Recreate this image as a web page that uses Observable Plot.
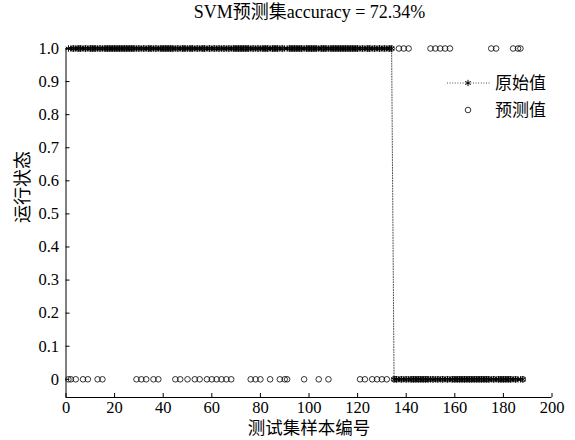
<!DOCTYPE html>
<html><head><meta charset="utf-8">
<script src="https://cdn.jsdelivr.net/npm/d3@7"></script>
<script src="https://cdn.jsdelivr.net/npm/@observablehq/plot@0.6"></script>
<style>
body{margin:0;background:#fff;}
#wrap{position:relative;width:575px;height:440px;font-family:'Liberation Serif','Noto Sans CJK SC',serif;color:#000;}
#title{height:24px;line-height:24px;text-align:center;font-size:18px;padding-left:44px;white-space:nowrap;}
#legend{position:absolute;left:440px;top:68px;}
#chart svg text, #legend text{font-family:'Liberation Serif','Noto Sans CJK SC',serif !important;}
</style></head><body>
<div id="wrap"><div id="title">SVM预测集accuracy = 72.34%</div><div id="chart"></div><svg id="legend" width="130" height="60"></svg></div>
<script>
// 原始值 (true class of each test sample, samples 1..188)
const original = [
1,1,1,1,1,1,1,1,1,1,1,1,1,1,1,1,1,1,1,1,
1,1,1,1,1,1,1,1,1,1,1,1,1,1,1,1,1,1,1,1,
1,1,1,1,1,1,1,1,1,1,1,1,1,1,1,1,1,1,1,1,
1,1,1,1,1,1,1,1,1,1,1,1,1,1,1,1,1,1,1,1,
1,1,1,1,1,1,1,1,1,1,1,1,1,1,1,1,1,1,1,1,
1,1,1,1,1,1,1,1,1,1,1,1,1,1,1,1,1,1,1,1,
1,1,1,1,1,1,1,1,1,1,1,1,1,1,0,0,0,0,0,0,
0,0,0,0,0,0,0,0,0,0,0,0,0,0,0,0,0,0,0,0,
0,0,0,0,0,0,0,0,0,0,0,0,0,0,0,0,0,0,0,0,
0,0,0,0,0,0,0,0
];
// samples whose predicted value differs from the original
const misclassified = [1,2,4,7,9,13,15,29,31,33,36,38,45,47,50,53,55,58,60,62,64,66,68,
  76,78,80,84,88,90,91,98,104,108,121,123,126,128,130,132,
  137,139,141,150,152,154,156,158,175,177,184,186,187];
const xTicks = [0,20,40,60,80,100,120,140,160,180,200];
const yTicks = [0,0.1,0.2,0.3,0.4,0.5,0.6,0.7,0.8,0.9,1.0];
const yTickLabels = ["0","0.1","0.2","0.3","0.4","0.5","0.6","0.7","0.8","0.9","1.0"];
const xDomain = [0,200];
const yDomain = [-0.055,1];
const xLabel = "测试集样本编号";
const yLabel = "运行状态";
const legendLabels = ["原始值","预测值"];

const samples = original.map((v,i)=>({
  sample:i+1,
  original:v,
  predicted: misclassified.includes(i+1) ? 1-v : v
}));

const font = "'Liberation Serif','Noto Sans CJK SC',serif";
const chart = Plot.plot({
  width:575, height:416,
  marginLeft:65.5, marginRight:23.5, marginTop:24, marginBottom:43,
  x:{domain:xDomain},
  y:{domain:yDomain},
  style:{fontFamily:font, fontSize:"16px", background:"white", color:"black", overflow:"visible"},
  marks:[
    Plot.ruleX([xDomain[0]], {stroke:"black", strokeWidth:1}),
    Plot.ruleY([yDomain[0]], {stroke:"black", strokeWidth:1}),
    Plot.axisX({ticks:xTicks, tickSize:-4, tickPadding:8, tickFormat:d=>String(d), label:null, fontSize:16.5, fontFamily:font, stroke:"black"}),
    Plot.axisY({ticks:yTicks, tickSize:-4, tickPadding:11, tickFormat:d=>yTickLabels[yTicks.indexOf(d)], label:null, fontSize:16.5, fontFamily:font, stroke:"black"}),
    Plot.text([xLabel], {frameAnchor:"bottom", dy:31, lineAnchor:"middle", fontSize:17.5, fontFamily:font}),
    Plot.text([yLabel], {frameAnchor:"left", dx:-43, rotate:-90, fontSize:18, fontFamily:font}),
    Plot.line(samples, {x:"sample", y:"original", stroke:"#222", strokeWidth:0.8, strokeDasharray:"1,1.6"}),
    Plot.dot(samples, {x:"sample", y:"original", symbol:"asterisk", r:3, stroke:"black", strokeWidth:1}),
    Plot.dot(samples, {x:"sample", y:"predicted", r:2.8, stroke:"black", fill:"none", strokeWidth:0.8})
  ]
});
document.getElementById("chart").appendChild(chart);

// legend
const lg = d3.select("#legend");
lg.append("line").attr("x1",7).attr("x2",50).attr("y1",15).attr("y2",15)
  .attr("stroke","#222").attr("stroke-width",0.8).attr("stroke-dasharray","1,1.6");
lg.append("path").attr("transform","translate(28,15)")
  .attr("d", d3.symbol(d3.symbolAsterisk, 28)()).attr("stroke","black").attr("stroke-width",1).attr("fill","none");
lg.append("circle").attr("cx",28).attr("cy",42).attr("r",2.8).attr("fill","none").attr("stroke","black").attr("stroke-width",0.8);
lg.selectAll("text.l").data(legendLabels).join("text").attr("class","l")
  .attr("x",55).attr("y",(d,i)=>15+i*27).attr("dy","0.35em")
  .attr("font-size",17).text(d=>d);
</script>
</body></html>
